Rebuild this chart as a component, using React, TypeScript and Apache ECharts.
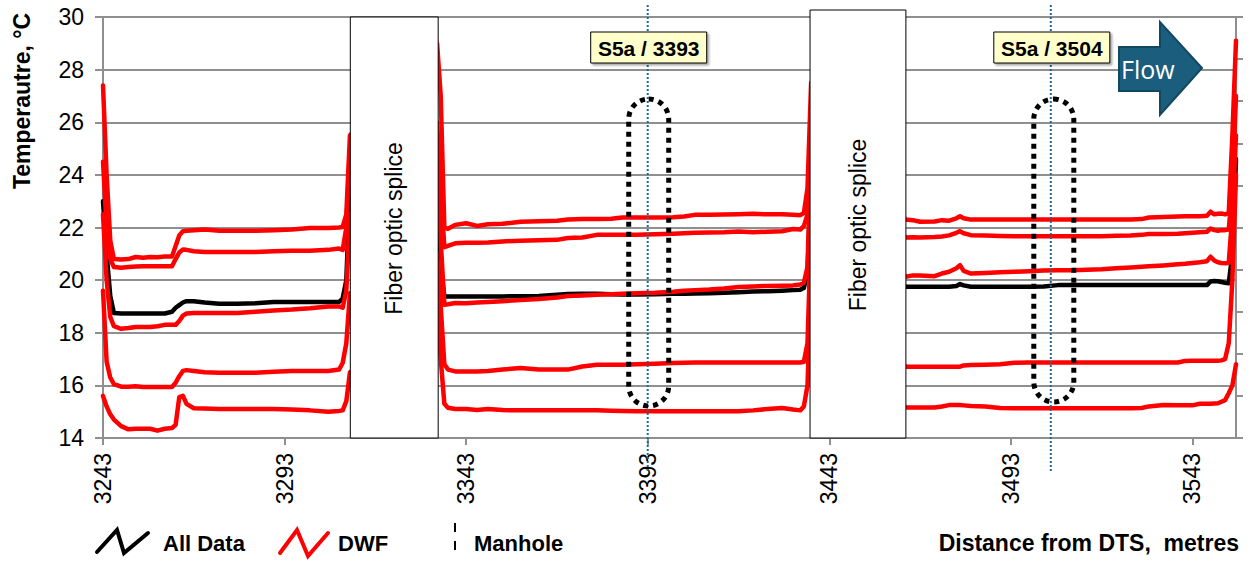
import React, { useEffect, useRef } from "react";
import * as echarts from "echarts";

// ---------- data ----------
const distance = [
  3243, 3244, 3245, 3246, 3248, 3250, 3252, 3254, 3256, 3258,
  3260, 3262, 3263, 3264, 3265, 3266, 3268, 3271, 3275, 3280,
  3285, 3290, 3295, 3300, 3305, 3308, 3309, 3310, 3311,
  3335, 3336, 3337, 3338, 3340, 3343, 3346, 3349, 3353, 3358,
  3363, 3368, 3371, 3375, 3379, 3383, 3386, 3390, 3395, 3400,
  3403, 3406, 3410, 3414, 3418, 3422, 3426, 3430, 3433, 3435,
  3436, 3437, 3438,
  3464, 3466, 3468, 3472, 3474, 3476, 3478, 3479, 3480, 3482,
  3486, 3490, 3494, 3498, 3502, 3506, 3510, 3514, 3518, 3522,
  3526, 3529, 3531, 3535, 3539, 3541, 3543, 3545, 3547, 3548,
  3549, 3550, 3551, 3552, 3553, 3554, 3555,
];

const allData = [
  23.0, 21.0, 19.4, 18.75, 18.73, 18.73, 18.73, 18.73, 18.73, 18.73,
  18.73, 18.8, 18.95, 19.05, 19.15, 19.2, 19.2, 19.15, 19.1, 19.1,
  19.12, 19.17, 19.17, 19.17, 19.17, 19.17, 19.3, 20.0, 23.5,
  22.0, 20.5, 19.38, 19.38, 19.38, 19.38, 19.38, 19.38, 19.38, 19.39,
  19.4, 19.44, 19.47, 19.48, 19.48, 19.46, 19.45, 19.45, 19.46, 19.48,
  19.48, 19.49, 19.5, 19.52, 19.54, 19.57, 19.58, 19.6, 19.62, 19.63,
  19.7, 20.3, 24.0,
  19.75, 19.75, 19.75, 19.75, 19.75, 19.75, 19.78, 19.85, 19.8, 19.75,
  19.75, 19.75, 19.75, 19.75, 19.76, 19.81, 19.81, 19.81, 19.81, 19.81,
  19.81, 19.81, 19.81, 19.81, 19.81, 19.81, 19.81, 19.81, 19.81, 19.95,
  19.97, 19.96, 19.93, 19.9, 19.88, 21.0, 24.6,
];

const dwf1 = [
  27.4, 24.0, 21.5, 20.8, 20.78, 20.8, 20.88, 20.85, 20.88, 20.87,
  20.9, 20.9, 21.3, 21.7, 21.86, 21.88, 21.9, 21.92, 21.88, 21.88,
  21.88, 21.9, 21.92, 21.98, 21.98, 22.0, 22.02, 22.5, 25.5,
  29.0, 27.0, 22.0, 21.95, 22.1, 22.16, 22.06, 22.12, 22.14, 22.22,
  22.24, 22.26, 22.3, 22.32, 22.32, 22.33, 22.38, 22.38, 22.38, 22.39,
  22.42, 22.48, 22.48, 22.49, 22.5, 22.52, 22.5, 22.5, 22.48, 22.47,
  22.55, 23.5, 27.5,
  22.3, 22.28, 22.22, 22.23, 22.28, 22.26, 22.35, 22.43, 22.35, 22.3,
  22.3, 22.3, 22.3, 22.3, 22.3, 22.3, 22.3, 22.3, 22.3, 22.3,
  22.3, 22.32, 22.38, 22.4, 22.42, 22.43, 22.43, 22.43, 22.45, 22.6,
  22.5, 22.52, 22.53, 22.5, 22.55, 25.5, 29.1,
];

const dwf2 = [
  24.5, 22.0, 20.8, 20.5, 20.47, 20.5, 20.52, 20.53, 20.53, 20.53,
  20.53, 20.53, 20.8, 21.05, 21.16, 21.15, 21.1, 21.07, 21.07, 21.07,
  21.07, 21.1, 21.12, 21.12, 21.15, 21.2, 21.15, 22.0, 25.0,
  26.0, 23.5, 21.25, 21.3, 21.4, 21.42, 21.42, 21.43, 21.47, 21.5,
  21.52, 21.53, 21.6, 21.62, 21.72, 21.72, 21.72, 21.72, 21.74, 21.76,
  21.78, 21.8, 21.81, 21.82, 21.85, 21.82, 21.84, 21.86, 21.94, 21.92,
  22.05, 22.5, 26.0,
  21.62, 21.63, 21.62, 21.64, 21.66, 21.7, 21.8, 21.86, 21.78, 21.71,
  21.7, 21.68, 21.67, 21.67, 21.67, 21.67, 21.67, 21.67, 21.67, 21.69,
  21.7, 21.72, 21.75, 21.75, 21.76, 21.78, 21.8, 21.82, 21.84, 21.96,
  21.9, 21.88, 21.9, 21.9, 21.92, 23.5, 27.0,
];

const dwf3 = [
  22.5, 20.0, 18.6, 18.25, 18.15, 18.18, 18.22, 18.22, 18.22, 18.25,
  18.3, 18.3, 18.3, 18.45, 18.65, 18.73, 18.75, 18.75, 18.75, 18.75,
  18.8, 18.85, 18.88, 18.93, 19.0, 19.0, 18.95, 19.6, 22.5,
  25.0, 21.5, 19.06, 19.08, 19.13, 19.12, 19.15, 19.17, 19.2, 19.24,
  19.28, 19.34, 19.4, 19.42, 19.44, 19.46, 19.48, 19.5, 19.52, 19.56,
  19.6, 19.62, 19.64, 19.68, 19.74, 19.76, 19.78, 19.79, 19.8, 19.83,
  19.9, 20.5, 25.0,
  20.13, 20.18, 20.18, 20.15, 20.25, 20.32, 20.45, 20.57, 20.35, 20.25,
  20.27, 20.3, 20.32, 20.34, 20.37, 20.38, 20.38, 20.39, 20.41, 20.45,
  20.48, 20.51, 20.53, 20.56, 20.6, 20.62, 20.65, 20.68, 20.72, 20.89,
  20.75, 20.68, 20.65, 20.64, 20.65, 22.5, 25.5,
];

const dwf4 = [
  19.6, 16.9, 16.3, 16.05, 15.95, 15.95, 15.97, 15.94, 15.94, 15.94,
  15.94, 15.94, 16.1, 16.35, 16.55, 16.58, 16.55, 16.5, 16.48, 16.48,
  16.48, 16.52, 16.55, 16.55, 16.55, 16.6, 16.85, 17.6, 19.5,
  21.0, 19.0, 16.8, 16.6, 16.53, 16.53, 16.53, 16.55, 16.6, 16.66,
  16.6, 16.6, 16.6, 16.72, 16.78, 16.78, 16.78, 16.8, 16.82, 16.85,
  16.86, 16.87, 16.87, 16.87, 16.87, 16.87, 16.87, 16.87, 16.87, 16.87,
  16.9, 17.6, 22.0,
  16.71, 16.71, 16.71, 16.71, 16.71, 16.71, 16.71, 16.71, 16.76, 16.77,
  16.78, 16.8, 16.86, 16.87, 16.87, 16.87, 16.87, 16.87, 16.87, 16.87,
  16.87, 16.87, 16.87, 16.87, 16.87, 16.93, 16.94, 16.94, 16.94, 16.94,
  16.94, 16.94, 16.95, 17.0, 17.6, 20.0, 24.0,
];

const dwf5 = [
  15.6, 15.2, 14.9, 14.7, 14.45, 14.33, 14.35, 14.35, 14.35, 14.28,
  14.35, 14.38, 14.5, 15.55, 15.6, 15.3, 15.13, 15.12, 15.1, 15.1,
  15.1, 15.1, 15.08, 15.05, 15.0, 15.03, 15.05, 15.4, 16.5,
  19.0, 17.0, 15.3, 15.15, 15.1, 15.1, 15.06, 15.1, 15.06, 15.05,
  15.05, 15.05, 15.05, 15.05, 15.05, 15.04, 15.03, 15.02, 15.02, 15.02,
  15.02, 15.02, 15.02, 15.02, 15.02, 15.05, 15.1, 15.14, 15.08, 15.05,
  15.2, 16.0, 20.0,
  15.16, 15.16, 15.16, 15.16, 15.2, 15.25, 15.25, 15.25, 15.24, 15.22,
  15.2, 15.14, 15.13, 15.13, 15.13, 15.13, 15.13, 15.13, 15.13, 15.13,
  15.13, 15.14, 15.2, 15.25, 15.24, 15.24, 15.24, 15.3, 15.3, 15.3,
  15.31, 15.32, 15.38, 15.44, 15.7, 16.0, 16.8,
];

const xTicks = [3243, 3293, 3343, 3393, 3443, 3493, 3543];
const manholes = [3393, 3504];
const manholeLabels = ["S5a / 3393", "S5a / 3504"];
const spliceRanges = [
  [3311.1, 3335.3],
  [3437.7, 3464.1],
];

// ---------- layout ----------
const X_MIN = 3243;
const X_MAX = 3555;
const G_LEFT = 103;
const G_TOP = 17;
const G_W = 1133;
const G_H = 421;
const FONT = '"Liberation Sans", Arial, sans-serif';
const GRID_GRAY = "#8f8f8f";

const px = (d: number) => G_LEFT + ((d - X_MIN) * G_W) / (X_MAX - X_MIN);

export default function App() {
  const ref = useRef<HTMLDivElement>(null);

  useEffect(() => {
    if (!ref.current) return;
    const chart = echarts.init(ref.current, null, { renderer: "svg" });

    const mk = (vals: number[]) => distance.map((d, i) => [d, vals[i]]);
    const lineSeries = (name: string, vals: number[], color: string) => ({
      name,
      type: "line",
      data: mk(vals),
      symbol: "none",
      showSymbol: false,
      lineStyle: { color, width: 4.5, join: "round", cap: "round" },
      itemStyle: { color },
      clip: true,
      z: 3,
    });

    const graphics: any[] = [];

    // fibre optic splice boxes
    const spliceTops = [G_TOP, 10];
    spliceRanges.forEach((r, i) => {
      const x0 = px(r[0]);
      const x1 = px(r[1]);
      const top = spliceTops[i];
      graphics.push({
        type: "rect",
        z: 20,
        shape: { x: x0, y: top, width: x1 - x0, height: G_TOP + G_H - top },
        style: { fill: "#ffffff", stroke: "#000000", lineWidth: 1 },
      });
      graphics.push({
        type: "text",
        z: 21,
        x: (x0 + x1) / 2,
        y: (top + G_TOP + G_H) / 2 + 1,
        rotation: Math.PI / 2,
        style: {
          text: "Fiber optic splice",
          fill: "#000",
          fontSize: 23,
          fontFamily: FONT,
          textAlign: "center",
          textVerticalAlign: "middle",
        },
      });
    });

    // manhole lines, labels, dotted capsules
    manholes.forEach((m, i) => {
      const x = px(m);
      graphics.push({
        type: "line",
        z: 22,
        shape: { x1: x, y1: 5, x2: x, y2: 471 },
        style: { stroke: "#1f6a8e", lineWidth: 2, lineDash: [2, 2] },
      });
      graphics.push({
        type: "rect",
        z: 23,
        shape: { x: x + 1 - 58, y: 32, width: 116, height: 31 },
        style: {
          fill: "#ffffcc",
          stroke: "#000",
          lineWidth: 1,
          shadowBlur: 2,
          shadowOffsetX: 2,
          shadowOffsetY: 2,
          shadowColor: "rgba(0,0,0,0.35)",
        },
      });
      graphics.push({
        type: "text",
        z: 24,
        x: x + 1,
        y: 48,
        style: {
          text: manholeLabels[i],
          fill: "#000",
          fontSize: 21,
          fontWeight: "bold",
          fontFamily: FONT,
          textAlign: "center",
          textVerticalAlign: "middle",
        },
      });
      graphics.push({
        type: "rect",
        z: 22,
        shape: { x: x - 19 + i * 2, y: 99, width: 40, height: i === 0 ? 307 : 303, r: 20 },
        style: { fill: "none", stroke: "#000", lineWidth: 5, lineDash: [5, 5] },
      });
    });

    // flow arrow
    graphics.push({
      type: "polygon",
      z: 25,
      shape: {
        points: [
          [1119, 47],
          [1160, 47],
          [1160, 22],
          [1202, 68],
          [1160, 115],
          [1160, 91],
          [1119, 91],
        ],
      },
      style: { fill: "#1b5d7d", stroke: "#124761", lineWidth: 2 },
    });
    graphics.push({
      type: "text",
      z: 26,
      x: 1121,
      y: 69,
      style: {
        text: "Flow",
        fill: "#ffffff",
        fontSize: 25,
        fontFamily: '"Open Sans", "Noto Sans", sans-serif',
        textAlign: "left",
        textVerticalAlign: "middle",
      },
    });

    // y axis title
    graphics.push({
      type: "text",
      z: 26,
      x: 22,
      y: 101,
      rotation: Math.PI / 2,
      style: {
        text: "Temperautre, °C",
        fill: "#000",
        fontSize: 23,
        fontWeight: "bold",
        fontFamily: FONT,
        textAlign: "center",
        textVerticalAlign: "middle",
      },
    });

    // legend
    graphics.push({
      type: "polyline",
      z: 26,
      shape: { points: [[97, 552], [117, 530], [124, 553], [148, 533]] },
      style: { stroke: "#000", lineWidth: 4, lineCap: "round", fill: "none" },
    });
    graphics.push({
      type: "polyline",
      z: 26,
      shape: { points: [[280, 553], [297, 530], [308, 556], [328, 533]] },
      style: { stroke: "#ff0000", lineWidth: 4, lineCap: "round", fill: "none" },
    });
    graphics.push({
      type: "line",
      z: 26,
      shape: { x1: 455, y1: 523, x2: 455, y2: 532 },
      style: { stroke: "#000", lineWidth: 2 },
    });
    graphics.push({
      type: "line",
      z: 26,
      shape: { x1: 455, y1: 541, x2: 455, y2: 550 },
      style: { stroke: "#000", lineWidth: 2 },
    });
    const legendText = (text: string, x: number, align = "left", size = 22) => ({
      type: "text",
      z: 26,
      x,
      y: 543,
      style: {
        text,
        fill: "#000",
        fontSize: size,
        fontWeight: "bold",
        fontFamily: FONT,
        textAlign: align,
        textVerticalAlign: "middle",
      },
    });
    graphics.push(legendText("All Data", 163));
    graphics.push(legendText("DWF", 338));
    graphics.push(legendText("Manhole", 474));
    graphics.push(legendText("Distance from DTS,  metres", 1239, "right", 23));

    const option: any = {
      animation: false,
      backgroundColor: "#ffffff",
      grid: { left: G_LEFT, top: G_TOP, width: G_W, height: G_H, containLabel: false },
      xAxis: {
        type: "value",
        min: X_MIN,
        max: X_MAX,
        axisLine: { show: true, lineStyle: { color: GRID_GRAY, width: 2 } },
        axisTick: {
          show: true,
          customValues: xTicks,
          length: 7,
          lineStyle: { color: GRID_GRAY, width: 2 },
        },
        axisLabel: {
          customValues: xTicks,
          formatter: (v: number) => String(v),
          rotate: 90,
          margin: 15,
          color: "#000",
          fontSize: 23,
          fontFamily: FONT,
        },
        splitLine: { show: false },
      },
      yAxis: [
        {
          type: "value",
          min: 14,
          max: 30,
          interval: 2,
          axisLine: { show: true, lineStyle: { color: GRID_GRAY, width: 2 } },
          axisTick: { show: true, length: 8, lineStyle: { color: GRID_GRAY, width: 2 } },
          axisLabel: { color: "#000", fontSize: 23, fontFamily: FONT, margin: 19 },
          splitLine: { show: true, lineStyle: { color: GRID_GRAY, width: 2 } },
        },
        {
          type: "value",
          position: "right",
          min: 0,
          max: 10,
          interval: 1,
          axisLine: { show: true, lineStyle: { color: GRID_GRAY, width: 2 } },
          axisTick: { show: true, length: 7, lineStyle: { color: GRID_GRAY, width: 2 } },
          axisLabel: { show: false },
          splitLine: { show: false },
        },
      ],
      series: [
        lineSeries("All Data", allData, "#000000"),
        lineSeries("DWF 1", dwf1, "#ff0000"),
        lineSeries("DWF 2", dwf2, "#ff0000"),
        lineSeries("DWF 3", dwf3, "#ff0000"),
        lineSeries("DWF 4", dwf4, "#ff0000"),
        lineSeries("DWF 5", dwf5, "#ff0000"),
      ],
      graphic: { elements: graphics },
    };

    chart.setOption(option);
    return () => chart.dispose();
  }, []);

  return (
    <div
      ref={ref}
      style={{ position: "absolute", left: 0, top: 0, width: 1251, height: 563, background: "#fff" }}
    />
  );
}
